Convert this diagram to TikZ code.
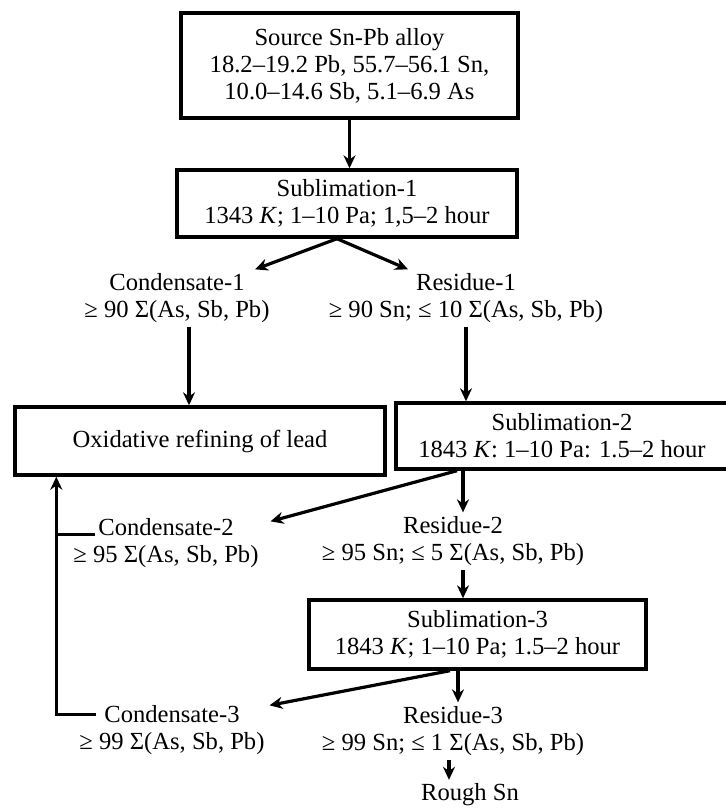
\documentclass[tikz,border=0pt]{standalone}
\usepackage{fontspec}
\setmainfont{Liberation Serif}
\usetikzlibrary{arrows.meta,calc}

\begin{document}
\begin{tikzpicture}[x=0.5pt,y=-0.5pt,
		every node/.style={font=\fontsize{12.3pt}{13.5pt}\selectfont},
		box/.style={draw,line width=1.7pt,align=center,inner sep=0pt},
		txt/.style={align=center,inner sep=0pt,outer sep=2pt},
		line/.style={line width=1.6pt},
		arr/.style={line,-{Stealth[length=6.5pt,width=6pt]}}]
			\useasboundingbox(0,0)rectangle(725,810);
			\node[box,minimum width=168.5pt,minimum height=52.5pt](src)at(349.5,65.5){Source Sn-Pb alloy\\18.2--19.2 Pb, 55.7--56.1 Sn,\\10.0--14.6 Sb, 5.1--6.9 As};
			\node[box,minimum width=170pt,minimum height=33.5pt](sub1)at(347,203.5){Sublimation-1\\1343 \textit{K}; 1--10 Pa; 1,5--2 hour};
			\node[txt](cond1)at(177,298){Condensate-1\\≥ 90 Σ(As, Sb, Pb)};
			\node[txt](res1)at(466,298){Residue-1\\≥ 90 Sn; ≤ 10 Σ(As, Sb, Pb)};
			\node[box,minimum width=185pt,minimum height=34pt](oxid)at(200,441){Oxidative refining of lead};
			\node[box,minimum width=166pt,minimum height=33pt](sub2)at(562,436){Sublimation-2\\1843 \textit{K}: 1--10 Pa: 1.5--2 hour};
			\node[txt](cond2)at(166,543){Condensate-2\\≥ 95 Σ(As, Sb, Pb)};
			\node[txt](res2)at(453,541){Residue-2\\≥ 95 Sn; ≤ 5 Σ(As, Sb, Pb)};
			\node[box,minimum width=168.5pt,minimum height=34.5pt](sub3)at(477.5,634.5){Sublimation-3\\1843 \textit{K}; 1--10 Pa; 1.5--2 hour};
			\node[txt](cond3)at(172,730){Condensate-3\\≥ 99 Σ(As, Sb, Pb)};
			\node[txt](res3)at(453,731){Residue-3\\≥ 99 Sn; ≤ 1 Σ(As, Sb, Pb)};
			\node[txt](rough)at(470,795){Rough Sn};
			\draw[arr](src.south)--(src.south|-sub1.north);
			\draw[arr]([xshift=-5pt]sub1.south)--([xshift=39pt]cond1.north);
			\draw[arr]([xshift=-5pt]sub1.south)--([xshift=-29pt]res1.north);
			\draw[arr]([xshift=6pt]cond1.south)coordinate(c1)--(c1|-oxid.north);
			\draw[arr](res1.south)--(res1.south|-sub2.north);
			\draw[arr]($(sub2.south-|res1)+(-9,0)$)--([shift={(8,7)}]cond2.north east);
			\draw[arr]($(sub2.south-|res2)+(10,0)$)coordinate(s2)--(s2|-res2.north);
			\draw[arr]($(res2.south)+(10,0)$)coordinate(r2)--(r2|-sub3.north);
			\draw[arr]($(sub3.south-|res3)+(-3,0)$)--([shift={(1,4)}]cond3.north east);
			\draw[arr]($(sub3.south-|res3)+(5,0)$)coordinate(s3)--(s3|-res3.north);
			\draw[arr]($(res3.south)+(-4,0)$)coordinate(r3)--(r3|-rough.north);
			\coordinate(fb)at([shift={(43,0)}]oxid.south west);
			\draw[arr]([shift={(21,13)}]cond3.north west)-|(fb);
			\draw[line]([shift={(26,20)}]cond2.north west)coordinate(c2)--(c2-|fb);
		\end{tikzpicture}
\end{document}
